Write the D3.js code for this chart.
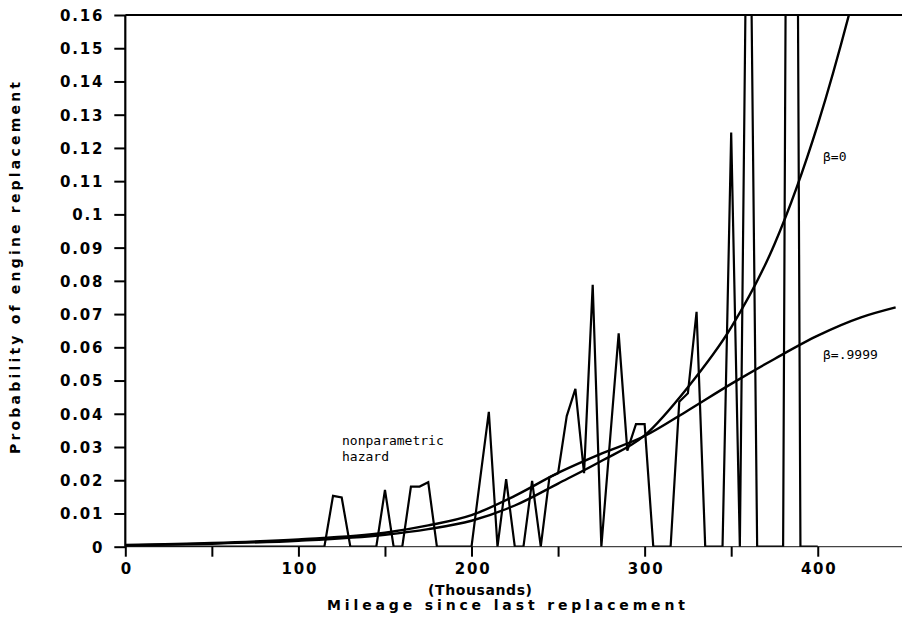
<!DOCTYPE html>
<html>
<head>
<meta charset="utf-8">
<script src="https://cdn.jsdelivr.net/npm/d3@7"></script>
<style>
  body { margin: 0; background: #fff; }
  .tick text { font-family: "DejaVu Sans", sans-serif; font-weight: bold; font-size: 15px; fill: #000; letter-spacing: 1.8px; }
  .tick line { stroke: #000; stroke-width: 2; }
  .note { font-family: "DejaVu Sans Mono", monospace; font-size: 13px; fill: #000; }
  .title { font-family: "DejaVu Sans", sans-serif; font-weight: bold; font-size: 14px; fill: #000; }
</style>
</head>
<body>
<div id="graphic"></div>
<script>
// nonparametric hazard (mileage in thousands, probability)
var hazardMiles = [0, 115, 120, 125, 130, 145, 150, 155, 160, 165, 170, 175, 180,
                   200, 205, 210, 215, 220, 225, 230, 235, 240, 245, 250, 255, 260,
                   265, 270, 275, 285, 290, 295, 300, 305, 315, 320, 325, 330, 335,
                   345, 350, 355, 360, 365, 380, 385, 390, 400];
var hazardProb = [0, 0, 0.0153, 0.0148, 0, 0, 0.0171, 0, 0, 0.0181, 0.0181, 0.0194, 0,
                  0, 0.0205, 0.0406, 0, 0.0203, 0, 0, 0.0198, 0, 0.0209, 0.0221, 0.0393, 0.0475,
                  0.0221, 0.0788, 0, 0.0642, 0.0289, 0.0369, 0.0369, 0, 0, 0.0436, 0.0462, 0.0707, 0,
                  0, 0.1246, 0, 0.25, 0, 0, 0.57, 0, 0];

// fitted hazard, beta = 0
var beta0Miles = [0, 50, 100, 150, 175, 200, 225, 250, 275, 300, 325, 350, 375, 400, 418, 430];
var beta0Prob  = [0.0004, 0.0009, 0.0018, 0.0036, 0.0053, 0.0078, 0.0124, 0.019, 0.0258,
                  0.0335, 0.048, 0.066, 0.091, 0.127, 0.16, 0.185];

// fitted hazard, beta = .9999
var beta9Miles = [0, 50, 100, 150, 175, 200, 225, 250, 275, 300, 325, 350, 375, 400, 425, 445];
var beta9Prob  = [0.0005, 0.0011, 0.0022, 0.0042, 0.0064, 0.0095, 0.0153, 0.0222, 0.028,
                  0.0333, 0.041, 0.049, 0.0565, 0.0635, 0.069, 0.072];

var xTicks = [0, 50, 100, 150, 200, 250, 300, 350, 400];
var yTicks = [0, 0.01, 0.02, 0.03, 0.04, 0.05, 0.06, 0.07, 0.08, 0.09, 0.1,
              0.11, 0.12, 0.13, 0.14, 0.15, 0.16];

function drawChart(){
    var w = 902, h = 623;
    var padLeft = 125.3, padTop = 15, baseY = 546.7;

    var svg = d3.select("#graphic")
        .append("svg")
        .attr("width", w)
        .attr("height", h);

    var xScale = d3.scaleLinear().domain([0, 450]).range([padLeft, 904.3]);
    var yScale = d3.scaleLinear().domain([0, 0.16]).range([baseY, padTop]);

    svg.append("clipPath")
       .attr("id", "plotclip")
       .append("rect")
       .attr("x", padLeft).attr("y", padTop)
       .attr("width", w - padLeft).attr("height", baseY - padTop);

    // frame: top line and light baseline
    svg.append("line")
       .attr("x1", padLeft).attr("x2", w)
       .attr("y1", padTop).attr("y2", padTop)
       .attr("stroke", "#000").attr("stroke-width", 2);
    svg.append("line")
       .attr("x1", padLeft).attr("x2", w)
       .attr("y1", baseY).attr("y2", baseY)
       .attr("stroke", "#444").attr("stroke-width", 1.2);

    var xAxis = svg.append("g")
       .attr("transform", "translate(0," + baseY + ")")
       .call(d3.axisBottom(xScale)
            .tickValues(xTicks)
            .tickSize(10)
            .tickFormat(function(d){ return d % 100 == 0 ? d : ""; }));
    xAxis.select(".domain").remove();
    xAxis.selectAll(".tick text").attr("y", 17).attr("dx", "1px");

    var yAxis = svg.append("g")
       .attr("transform", "translate(" + padLeft + ",0)")
       .call(d3.axisLeft(yScale)
            .tickValues(yTicks)
            .tickSize(11)
            .tickFormat(function(d){ return String(+d.toFixed(2)); }));
    yAxis.select(".domain")
         .attr("d", "M0," + baseY + "V" + padTop)
         .attr("stroke", "#000").attr("stroke-width", 2.2);
    yAxis.selectAll(".tick text").attr("x", -21).attr("dy", "0.36em");

    var plot = svg.append("g").attr("clip-path", "url(#plotclip)");

    var hazard = hazardMiles.map(function(m, i){ return [m, hazardProb[i]]; });
    var beta0 = beta0Miles.map(function(m, i){ return [m, beta0Prob[i]]; });
    var beta9 = beta9Miles.map(function(m, i){ return [m, beta9Prob[i]]; });

    var straight = d3.line()
        .x(function(d){ return xScale(d[0]); })
        .y(function(d){ return yScale(d[1]); });
    var smooth = d3.line()
        .curve(d3.curveMonotoneX)
        .x(function(d){ return xScale(d[0]); })
        .y(function(d){ return yScale(d[1]); });

    plot.append("path").attr("d", smooth(beta9))
        .attr("fill", "none").attr("stroke", "#000").attr("stroke-width", 2.4);
    plot.append("path").attr("d", smooth(beta0))
        .attr("fill", "none").attr("stroke", "#000").attr("stroke-width", 2.4);
    plot.append("path").attr("d", straight(hazard))
        .attr("fill", "none").attr("stroke", "#000").attr("stroke-width", 2.2)
        .attr("stroke-linejoin", "miter");

    // annotations
    svg.append("text").attr("class", "note").attr("x", 342).attr("y", 445).text("nonparametric");
    svg.append("text").attr("class", "note").attr("x", 342).attr("y", 461).text("hazard");
    svg.append("text").attr("class", "note").attr("x", 823).attr("y", 161).text("β=0");
    svg.append("text").attr("class", "note").attr("x", 823).attr("y", 359).text("β=.9999");

    // axis titles
    svg.append("text").attr("class", "title")
       .attr("x", 480).attr("y", 595)
       .attr("text-anchor", "middle")
       .attr("textLength", 104).attr("lengthAdjust", "spacing")
       .text("(Thousands)");
    svg.append("text").attr("class", "title")
       .attr("x", 506).attr("y", 610)
       .attr("text-anchor", "middle")
       .attr("textLength", 358).attr("lengthAdjust", "spacing")
       .text("Mileage since last replacement");
    svg.append("text").attr("class", "title")
       .attr("transform", "translate(20,268) rotate(-90)")
       .attr("text-anchor", "middle")
       .attr("textLength", 372).attr("lengthAdjust", "spacing")
       .text("Probability of engine replacement");
}

drawChart();
</script>
</body>
</html>
